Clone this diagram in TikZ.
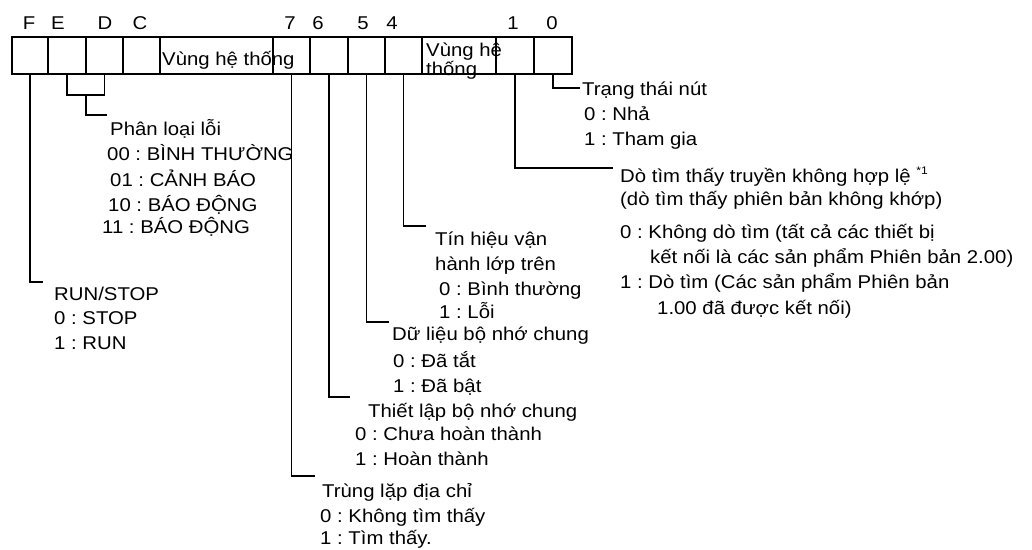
\documentclass[tikz,border=0pt]{standalone}
\usepackage{fontspec}
\setmainfont[FakeStretch=1.1]{Liberation Sans}
\frenchspacing
\begin{document}
\begin{tikzpicture}[x=1pt,y=-1pt,
  cell/.style={draw, line width=1.2pt, inner sep=0pt, minimum height=37pt},
  conn/.style={line width=1.2pt},
  lbl/.style={inner sep=0pt, anchor=base west, font=\fontsize{18.5}{20}\selectfont},
  bitlbl/.style={inner sep=0pt, anchor=base, font=\fontsize{18.5}{20}\selectfont}]
\useasboundingbox (0,0) rectangle (1032,549);
% register cells
\node[cell, minimum width=36pt]  (cF)  at (30,55.5) {};
\node[cell, minimum width=38pt]  (cE)  at (67,55.5) {};
\node[cell, minimum width=37pt]  (cD)  at (104.5,55.5) {};
\node[cell, minimum width=37pt]  (cC)  at (141.5,55.5) {};
\node[cell, minimum width=113pt] (cS1) at (216.5,55.5) {};
\node[cell, minimum width=37pt]  (c7)  at (291.5,55.5) {};
\node[cell, minimum width=38pt]  (c6)  at (329,55.5) {};
\node[cell, minimum width=37pt]  (c5)  at (366.5,55.5) {};
\node[cell, minimum width=37pt]  (c4)  at (403.5,55.5) {};
\node[cell, minimum width=74pt]  (cS2) at (459,55.5) {};
\node[cell, minimum width=38pt]  (c1)  at (515,55.5) {};
\node[cell, minimum width=38pt]  (c0)  at (553,55.5) {};
% texts inside cells
\node[lbl] (tS1)  at (162,65) {Vùng hệ thống};
\node[lbl] (tS2a) at (426,56) {Vùng hệ};
\node[lbl] (tS2b) at (426,75) {thống};
% bit labels
\node[bitlbl] (bF) at (29,29) {F};
\node[bitlbl] (bE) at (58,29) {E};
\node[bitlbl] (bD) at (105,29) {D};
\node[bitlbl] (bC) at (140,29) {C};
\node[bitlbl] (b7) at (290,29) {7};
\node[bitlbl] (b6) at (318,29) {6};
\node[bitlbl] (b5) at (363,29) {5};
\node[bitlbl] (b4) at (392,29) {4};
\node[bitlbl] (b1) at (513,29) {1};
\node[bitlbl] (b0) at (552,29) {0};
% connector ends
\coordinate (eF)  at (43,282);
\coordinate (bED) at (86,95);
\coordinate (eED) at (107,115);
\coordinate (e7)  at (315,476);
\coordinate (e6)  at (350,397);
\coordinate (e5)  at (389,322);
\coordinate (e4)  at (426,226);
\coordinate (e1)  at (613,168);
\coordinate (e0)  at (580,88);
% connectors
\draw[conn] (cF.south) |- (eF);
\draw[conn] (cE.south) |- (bED) -| (cD.south);
\draw[conn] (bED) |- (eED);
\draw[conn] (c7.south) |- (e7);
\draw[conn] (c6.south) |- (e6);
\draw[conn] (c5.south) |- (e5);
\draw[conn] (c4.south) |- (e4);
\draw[conn] (c1.south) |- (e1);
\draw[conn] (c0.south) |- (e0);
% F
\node[lbl] (rs0) at (54,300) {RUN/STOP};
\node[lbl] (rs1) at (54,324) {0 : STOP};
\node[lbl] (rs2) at (54,349) {1 : RUN};
% E D
\node[lbl] (pl0) at (110,135) {Phân loại lỗi};
\node[lbl] (pl1) at (107,160) {00 : BÌNH THƯỜNG};
\node[lbl] (pl2) at (110,186) {01 : CẢNH BÁO};
\node[lbl] (pl3) at (108,211) {10 : BÁO ĐỘNG};
\node[lbl] (pl4) at (102,233) {11 : BÁO ĐỘNG};
% 0
\node[lbl] (tt0) at (582,95) {Trạng thái nút};
\node[lbl] (tt1) at (584,120) {0 : Nhả};
\node[lbl] (tt2) at (584,145) {1 : Tham gia};
% 1
\node[lbl] (dt0) at (620,182) {Dò tìm thấy truyền không hợp lệ {\fontsize{11}{11}\selectfont\raisebox{8pt}{*1}}};
\node[lbl] (dt1) at (620,205) {(dò tìm thấy phiên bản không khớp)};
\node[lbl] (dt2) at (620,238) {0 : Không dò tìm (tất cả các thiết bị};
\node[lbl] (dt3) at (650,263) {kết nối là các sản phẩm Phiên bản 2.00)};
\node[lbl] (dt4) at (620,288) {1 : Dò tìm (Các sản phẩm Phiên bản};
\node[lbl] (dt5) at (657,314) {1.00 đã được kết nối)};
% 4
\node[lbl] (th0) at (435,245) {Tín hiệu vận};
\node[lbl] (th1) at (435,270) {hành lớp trên};
\node[lbl] (th2) at (439,295) {0 : Bình thường};
\node[lbl] (th3) at (439,318) {1 : Lỗi};
% 5
\node[lbl] (dl0) at (392,340) {Dữ liệu bộ nhớ chung};
\node[lbl] (dl1) at (393,367) {0 : Đã tắt};
\node[lbl] (dl2) at (393,392) {1 : Đã bật};
% 6
\node[lbl] (tl0) at (368,417) {Thiết lập bộ nhớ chung};
\node[lbl] (tl1) at (355,440) {0 : Chưa hoàn thành};
\node[lbl] (tl2) at (355,465) {1 : Hoàn thành};
% 7
\node[lbl] (tr0) at (322,497) {Trùng lặp địa chỉ};
\node[lbl] (tr1) at (320,522) {0 : Không tìm thấy};
\node[lbl] (tr2) at (320,544) {1 : Tìm thấy.};
\end{tikzpicture}
\end{document}
